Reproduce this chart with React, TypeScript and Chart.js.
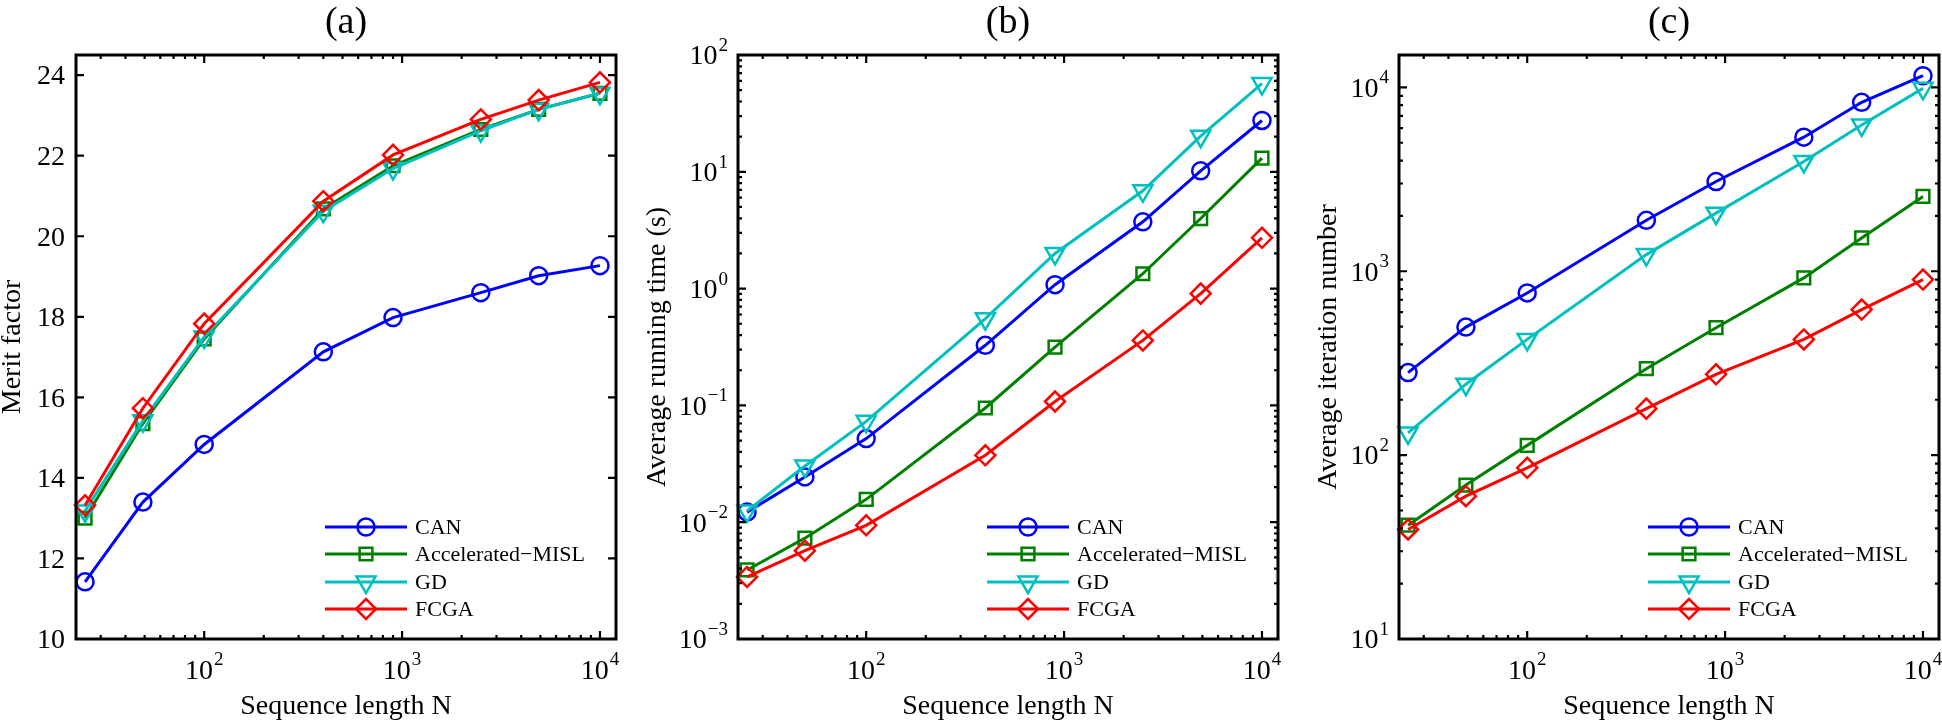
import React, { useEffect, useRef } from 'react';
import { Chart, registerables } from 'chart.js';
import { drawPoint } from 'chart.js/helpers';

Chart.register(...registerables);

// ---------------- data ----------------
const sequenceLengths = [25, 49, 100, 400, 900, 2500, 4900, 10000];
const seriesNames = ['CAN', 'Accelerated\u2212MISL', 'GD', 'FCGA'];
const seriesColors = ['#0000FF', '#008000', '#00BFBF', '#FF0000'];
const markerStyles = ['circle', 'rect', 'triangle', 'rectRot'];
const markerRotations = [0, 0, 180, 0];
const markerRadii = [8.5, 9, 11, 10];

const meritCAN = [11.42, 13.4, 14.83, 17.13, 17.98, 18.6, 19.02, 19.27];
const meritMISL = [13.0, 15.35, 17.45, 20.68, 21.75, 22.65, 23.15, 23.55];
const meritGD = [13.18, 15.42, 17.5, 20.62, 21.68, 22.62, 23.15, 23.55];
const meritFCGA = [13.32, 15.73, 17.83, 20.87, 22.02, 22.9, 23.38, 23.82];

const timeCAN = [0.0122, 0.0244, 0.052, 0.327, 1.08, 3.73, 10.2, 27.5];
const timeMISL = [0.0039, 0.0073, 0.0157, 0.095, 0.316, 1.34, 3.98, 13.1];
const timeGD = [0.0125, 0.0303, 0.073, 0.553, 2.0, 6.87, 20.2, 57];
const timeFCGA = [0.0034, 0.0057, 0.0094, 0.0374, 0.108, 0.36, 0.906, 2.72];

const iterCAN = [281, 497, 762, 1893, 3076, 5361, 8295, 11570];
const iterMISL = [41.6, 68.7, 113, 295, 493, 920, 1517, 2553];
const iterGD = [132, 243, 426, 1232, 2070, 3955, 6250, 9880];
const iterFCGA = [39.4, 59.8, 85.3, 179, 275, 426, 619, 901];

const panelTitles = ['(a)', '(b)', '(c)'];
const xAxisTitle = 'Sequence length N';
const yAxisTitles = ['Merit factor', 'Average running time (s)', 'Average iteration number'];
const xRange = [22.5, 12050];
const xTickExponents = [2, 3, 4];
const meritTicks = [10, 12, 14, 16, 18, 20, 22, 24];
const meritRange = [10, 24.5];
const timeTickExponents = [-3, -2, -1, 0, 1, 2];
const timeRange = [0.001, 100];
const iterTickExponents = [1, 2, 3, 4];
const iterRange = [10, 15000];

// ---------------- layout ----------------
const FONT = '"Liberation Serif", "Times New Roman", Times, serif';
const PAD_LEFT = 100;
const PAD_RIGHT = 22;
const PAD_TOP = 55;
const PAD_BOTTOM = 81;
const PLOT_W = 540;
const CANVAS_W = PAD_LEFT + PLOT_W + PAD_RIGHT;
const CANVAS_H = 720;
const plotLefts = [76, 738, 1399];
const yTitleOffsets = [56, 73, 63];

const panels = [
  { series: [meritCAN, meritMISL, meritGD, meritFCGA], yType: 'linear', yRange: meritRange, yTicks: meritTicks, yExps: null },
  { series: [timeCAN, timeMISL, timeGD, timeFCGA], yType: 'logarithmic', yRange: timeRange, yTicks: null, yExps: timeTickExponents },
  { series: [iterCAN, iterMISL, iterGD, iterFCGA], yType: 'logarithmic', yRange: iterRange, yTicks: null, yExps: iterTickExponents },
];

function logTickValues(min: number, max: number) {
  const out: { v: number; major: boolean }[] = [];
  const e0 = Math.floor(Math.log10(min));
  const e1 = Math.ceil(Math.log10(max));
  for (let e = e0; e <= e1; e++) {
    for (let m = 1; m <= 9; m++) {
      const v = m * Math.pow(10, e);
      if (v >= min * 0.9999 && v <= max * 1.0001) out.push({ v, major: m === 1 });
    }
  }
  return out;
}

function drawPow(ctx: CanvasRenderingContext2D, exp: number, x: number, y: number, align: 'center' | 'right', supDy: number) {
  const base = '10';
  const sup = exp < 0 ? '\u2212' + Math.abs(exp) : String(exp);
  ctx.font = `28px ${FONT}`;
  const wb = ctx.measureText(base).width;
  ctx.font = `19px ${FONT}`;
  const ws = ctx.measureText(sup).width;
  const total = wb + ws + 1;
  const x0 = align === 'center' ? x - total / 2 : x - total;
  ctx.textAlign = 'left';
  ctx.textBaseline = 'middle';
  ctx.font = `28px ${FONT}`;
  ctx.fillText(base, x0, y);
  ctx.font = `19px ${FONT}`;
  ctx.fillText(sup, x0 + wb + 1, y + supDy);
}

function makeAxesPlugin(idx: number) {
  const cfg = panels[idx];
  return {
    id: 'matlabAxes' + idx,
    afterDraw(chart: any) {
      const ctx: CanvasRenderingContext2D = chart.ctx;
      const { left, right, top, bottom } = chart.chartArea;
      const xs = chart.scales.x;
      const ys = chart.scales.y;
      ctx.save();
      ctx.strokeStyle = '#000';
      ctx.fillStyle = '#000';
      // frame
      ctx.lineWidth = 3;
      ctx.strokeRect(left, top, right - left, bottom - top);
      // x ticks (bottom and top, inside)
      ctx.lineWidth = 2.2;
      ctx.beginPath();
      for (const t of logTickValues(xRange[0], xRange[1])) {
        const px = xs.getPixelForValue(t.v);
        const len = t.major ? 8 : 4;
        ctx.moveTo(px, bottom);
        ctx.lineTo(px, bottom - len);
        ctx.moveTo(px, top);
        ctx.lineTo(px, top + len);
      }
      // y ticks (left and right, inside)
      const yt = cfg.yType === 'linear'
        ? cfg.yTicks!.map((v) => ({ v, major: true }))
        : logTickValues(cfg.yRange[0], cfg.yRange[1]);
      for (const t of yt) {
        const py = ys.getPixelForValue(t.v);
        const len = t.major ? 8 : 4;
        ctx.moveTo(left, py);
        ctx.lineTo(left + len, py);
        ctx.moveTo(right, py);
        ctx.lineTo(right - len, py);
      }
      ctx.stroke();

      // x tick labels
      for (const e of xTickExponents) {
        const px = xs.getPixelForValue(Math.pow(10, e));
        drawPow(ctx, e, px, bottom + 33, 'center', -12);
      }
      // y tick labels
      if (cfg.yType === 'linear') {
        ctx.font = `28px ${FONT}`;
        ctx.textAlign = 'right';
        ctx.textBaseline = 'middle';
        for (const v of cfg.yTicks!) {
          ctx.fillText(String(v), left - 11, ys.getPixelForValue(v) + 2);
        }
      } else {
        for (const e of cfg.yExps!) {
          const py = ys.getPixelForValue(Math.pow(10, e));
          drawPow(ctx, e, left - 10, py + 2, 'right', -11);
        }
      }
      // axis titles
      ctx.font = `28px ${FONT}`;
      ctx.textAlign = 'center';
      ctx.textBaseline = 'alphabetic';
      ctx.fillText(xAxisTitle, (left + right) / 2, bottom + 75);
      ctx.save();
      ctx.translate(left - yTitleOffsets[idx], (top + bottom) / 2);
      ctx.rotate(-Math.PI / 2);
      ctx.fillText(yAxisTitles[idx], 0, 0);
      ctx.restore();
      // panel title
      ctx.font = `38px ${FONT}`;
      ctx.fillText(panelTitles[idx], (left + right) / 2, top - 22);

      // legend
      const rows = [112, 85, 57, 30];
      for (let i = 0; i < seriesNames.length; i++) {
        const y = bottom - rows[i];
        ctx.strokeStyle = seriesColors[i];
        ctx.lineWidth = 3;
        ctx.beginPath();
        ctx.moveTo(left + 249, y);
        ctx.lineTo(left + 331, y);
        ctx.stroke();
        ctx.fillStyle = 'rgba(0,0,0,0)';
        ctx.lineWidth = 2.5;
        drawPoint(ctx, {
          pointStyle: markerStyles[i],
          rotation: markerRotations[i],
          radius: markerRadii[i],
          borderWidth: 2.5,
        } as any, left + 290, y);
        ctx.fillStyle = '#000';
        ctx.font = `22px ${FONT}`;
        ctx.textAlign = 'left';
        ctx.textBaseline = 'middle';
        ctx.fillText(seriesNames[i], left + 339, y + 1);
      }
      ctx.restore();
    },
  };
}

function Panel({ idx }: { idx: number }) {
  const ref = useRef<HTMLCanvasElement | null>(null);
  useEffect(() => {
    const cfg = panels[idx];
    const chart = new Chart(ref.current!, {
      type: 'line',
      data: {
        datasets: cfg.series.map((vals, i) => ({
          label: seriesNames[i],
          data: sequenceLengths.map((n, j) => ({ x: n, y: vals[j] })),
          borderColor: seriesColors[i],
          backgroundColor: 'rgba(0,0,0,0)',
          borderWidth: 3,
          pointStyle: markerStyles[i] as any,
          rotation: markerRotations[i],
          pointRadius: markerRadii[i],
          pointBorderColor: seriesColors[i],
          pointBackgroundColor: 'rgba(0,0,0,0)',
          pointBorderWidth: 2.5,
          tension: 0,
          fill: false,
          clip: false as any,
          order: 3 - i,
        })),
      },
      options: {
        animation: false,
        responsive: false,
        devicePixelRatio: 1,
        layout: { padding: { left: PAD_LEFT, right: PAD_RIGHT, top: PAD_TOP, bottom: PAD_BOTTOM } },
        plugins: { legend: { display: false }, tooltip: { enabled: false }, title: { display: false } },
        events: [],
        scales: {
          x: { type: 'logarithmic', min: xRange[0], max: xRange[1], display: false },
          y: { type: cfg.yType as any, min: cfg.yRange[0], max: cfg.yRange[1], display: false },
        },
      },
      plugins: [makeAxesPlugin(idx)],
    });
    let alive = true;
    const fonts: any = (document as any).fonts;
    if (fonts && fonts.load) {
      Promise.all([fonts.load(`28px "Liberation Serif"`), fonts.load(`19px "Liberation Serif"`)])
        .then(() => { if (alive) chart.draw(); })
        .catch(() => {});
    }
    return () => {
      alive = false;
      chart.destroy();
    };
  }, [idx]);
  return (
    <canvas
      ref={ref}
      width={CANVAS_W}
      height={CANVAS_H}
      style={{ position: 'absolute', left: plotLefts[idx] - PAD_LEFT, top: 0, width: CANVAS_W, height: CANVAS_H }}
    />
  );
}

export default function App() {
  return (
    <div style={{ position: 'fixed', left: 0, top: 0, width: 1942, height: 720, overflow: 'hidden', background: '#fff' }}>
      <Panel idx={0} />
      <Panel idx={1} />
      <Panel idx={2} />
    </div>
  );
}
